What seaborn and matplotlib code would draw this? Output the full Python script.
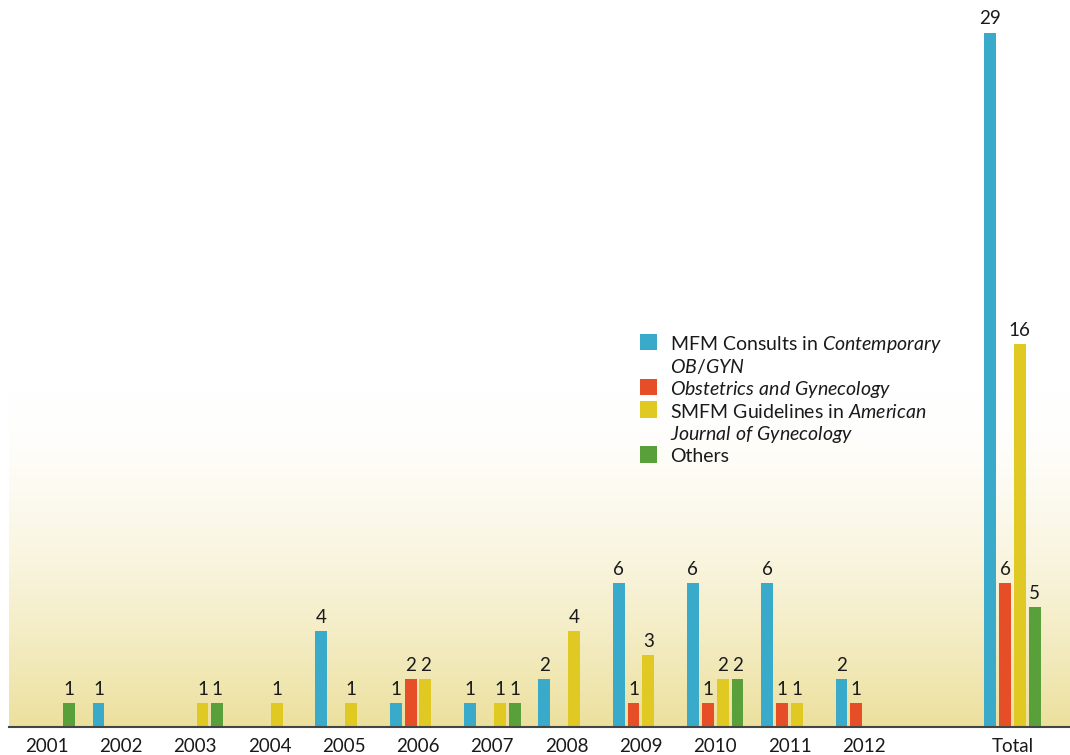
import numpy as np
import pandas as pd
import matplotlib
matplotlib.use("Agg")
import matplotlib.pyplot as plt
import seaborn as sns
from matplotlib.patches import Rectangle

# ---- data ----
categories = ["2001", "2002", "2003", "2004", "2005", "2006", "2007", "2008",
              "2009", "2010", "2011", "2012", "Total"]
mfm_consults = [0, 1, 0, 0, 4, 1, 1, 2, 6, 6, 6, 2, 29]
obstetrics = [0, 0, 0, 0, 0, 2, 0, 0, 1, 1, 1, 1, 6]
smfm_guidelines = [0, 0, 1, 1, 1, 2, 1, 4, 3, 2, 1, 0, 16]
others = [1, 0, 1, 0, 0, 0, 1, 0, 0, 2, 0, 0, 5]
series_names = ["MFM Consults", "Obstetrics and Gynecology", "SMFM Guidelines", "Others"]
colors = ["#3AAACB", "#E64E28", "#E0C922", "#5AA03A"]
legend_lines = [
    (r"MFM Consults in $\mathit{Contemporary}$", 0),
    (r"$\mathit{OB/GYN}$", None),
    (r"$\mathit{Obstetrics\ and\ Gynecology}$", 1),
    (r"SMFM Guidelines in $\mathit{American}$", 2),
    (r"$\mathit{Journal\ of\ Gynecology}$", None),
    ("Others", 3),
]

order = categories[:-1] + [" "] + ["Total"]

rows = []
for name, vals in zip(series_names, [mfm_consults, obstetrics, smfm_guidelines, others]):
    for c, v in zip(categories, vals):
        rows.append({"cat": c, "series": name, "value": v})
df = pd.DataFrame(rows)

sns.set_theme(style="white")
plt.rcParams['font.family'] = ['Lato', 'DejaVu Sans']
plt.rcParams['mathtext.fontset'] = 'custom'
plt.rcParams['mathtext.rm'] = 'Lato'
plt.rcParams['mathtext.it'] = 'Lato:italic'

W, H = 1070, 755
fig = plt.figure(figsize=(W / 100, H / 100), dpi=100)
ax = fig.add_axes([9 / W, 28 / H, (W - 9) / W, (727 - 9) / H])

sns.barplot(data=df, x="cat", y="value", hue="series", order=order,
            hue_order=series_names, palette=colors, width=0.8, gap=0.2,
            saturation=1, ax=ax, legend=False, linewidth=0)

x0 = (9 - 46.5) / 74.3
x1 = (W - 46.5) / 74.3

# smooth gradient background (bottom yellowish -> white)
top_val = 14.0
t = np.linspace(0, 1, 512)
c_bot = np.array([236, 224, 157]) / 255.0
c_top = np.array([255, 255, 255]) / 255.0
w = (1 - t) ** 1.6
img = (c_top[None, :] * (1 - w[:, None]) + c_bot[None, :] * w[:, None]).reshape(-1, 1, 3)
ax.imshow(img, origin="lower", aspect="auto", interpolation="bilinear",
          extent=[x0, x1, 0, top_val], zorder=0)
ax.set_xlim(x0, x1)
ax.set_ylim(0, 30)
ax.set_facecolor("white")

for cont in ax.containers:
    labels = [f"{v:g}" if v > 0 else "" for v in cont.datavalues]
    ax.bar_label(cont, labels=labels, padding=4, fontsize=13.5, color="#1a1a1a")

for s in ["top", "right", "left"]:
    ax.spines[s].set_visible(False)
ax.spines["bottom"].set_color("#444444")
ax.spines["bottom"].set_linewidth(1.5)
ax.set_yticks([])
ax.set_xlabel("")
ax.set_ylabel("")
ax.tick_params(axis="x", length=0, pad=8, labelsize=13.5, labelcolor="#1a1a1a")
ax.set_xticks(range(len(order)))
ax.set_xticklabels(order)

# legend (hand placed so that wrapped lines keep uniform spacing)
base0, step = 350.5, 22.4
for i, (txt, ci) in enumerate(legend_lines):
    yb = base0 + i * step
    fig.text(670 / W, 1 - yb / H, txt, fontsize=14, color="#1a1a1a",
             ha="left", va="baseline")
    if ci is not None:
        fig.patches.append(Rectangle((640 / W, 1 - yb / H), 17 / W, 16.5 / H,
                                     transform=fig.transFigure,
                                     facecolor=colors[ci], edgecolor="none"))

fig.savefig("out.png", dpi=100)
